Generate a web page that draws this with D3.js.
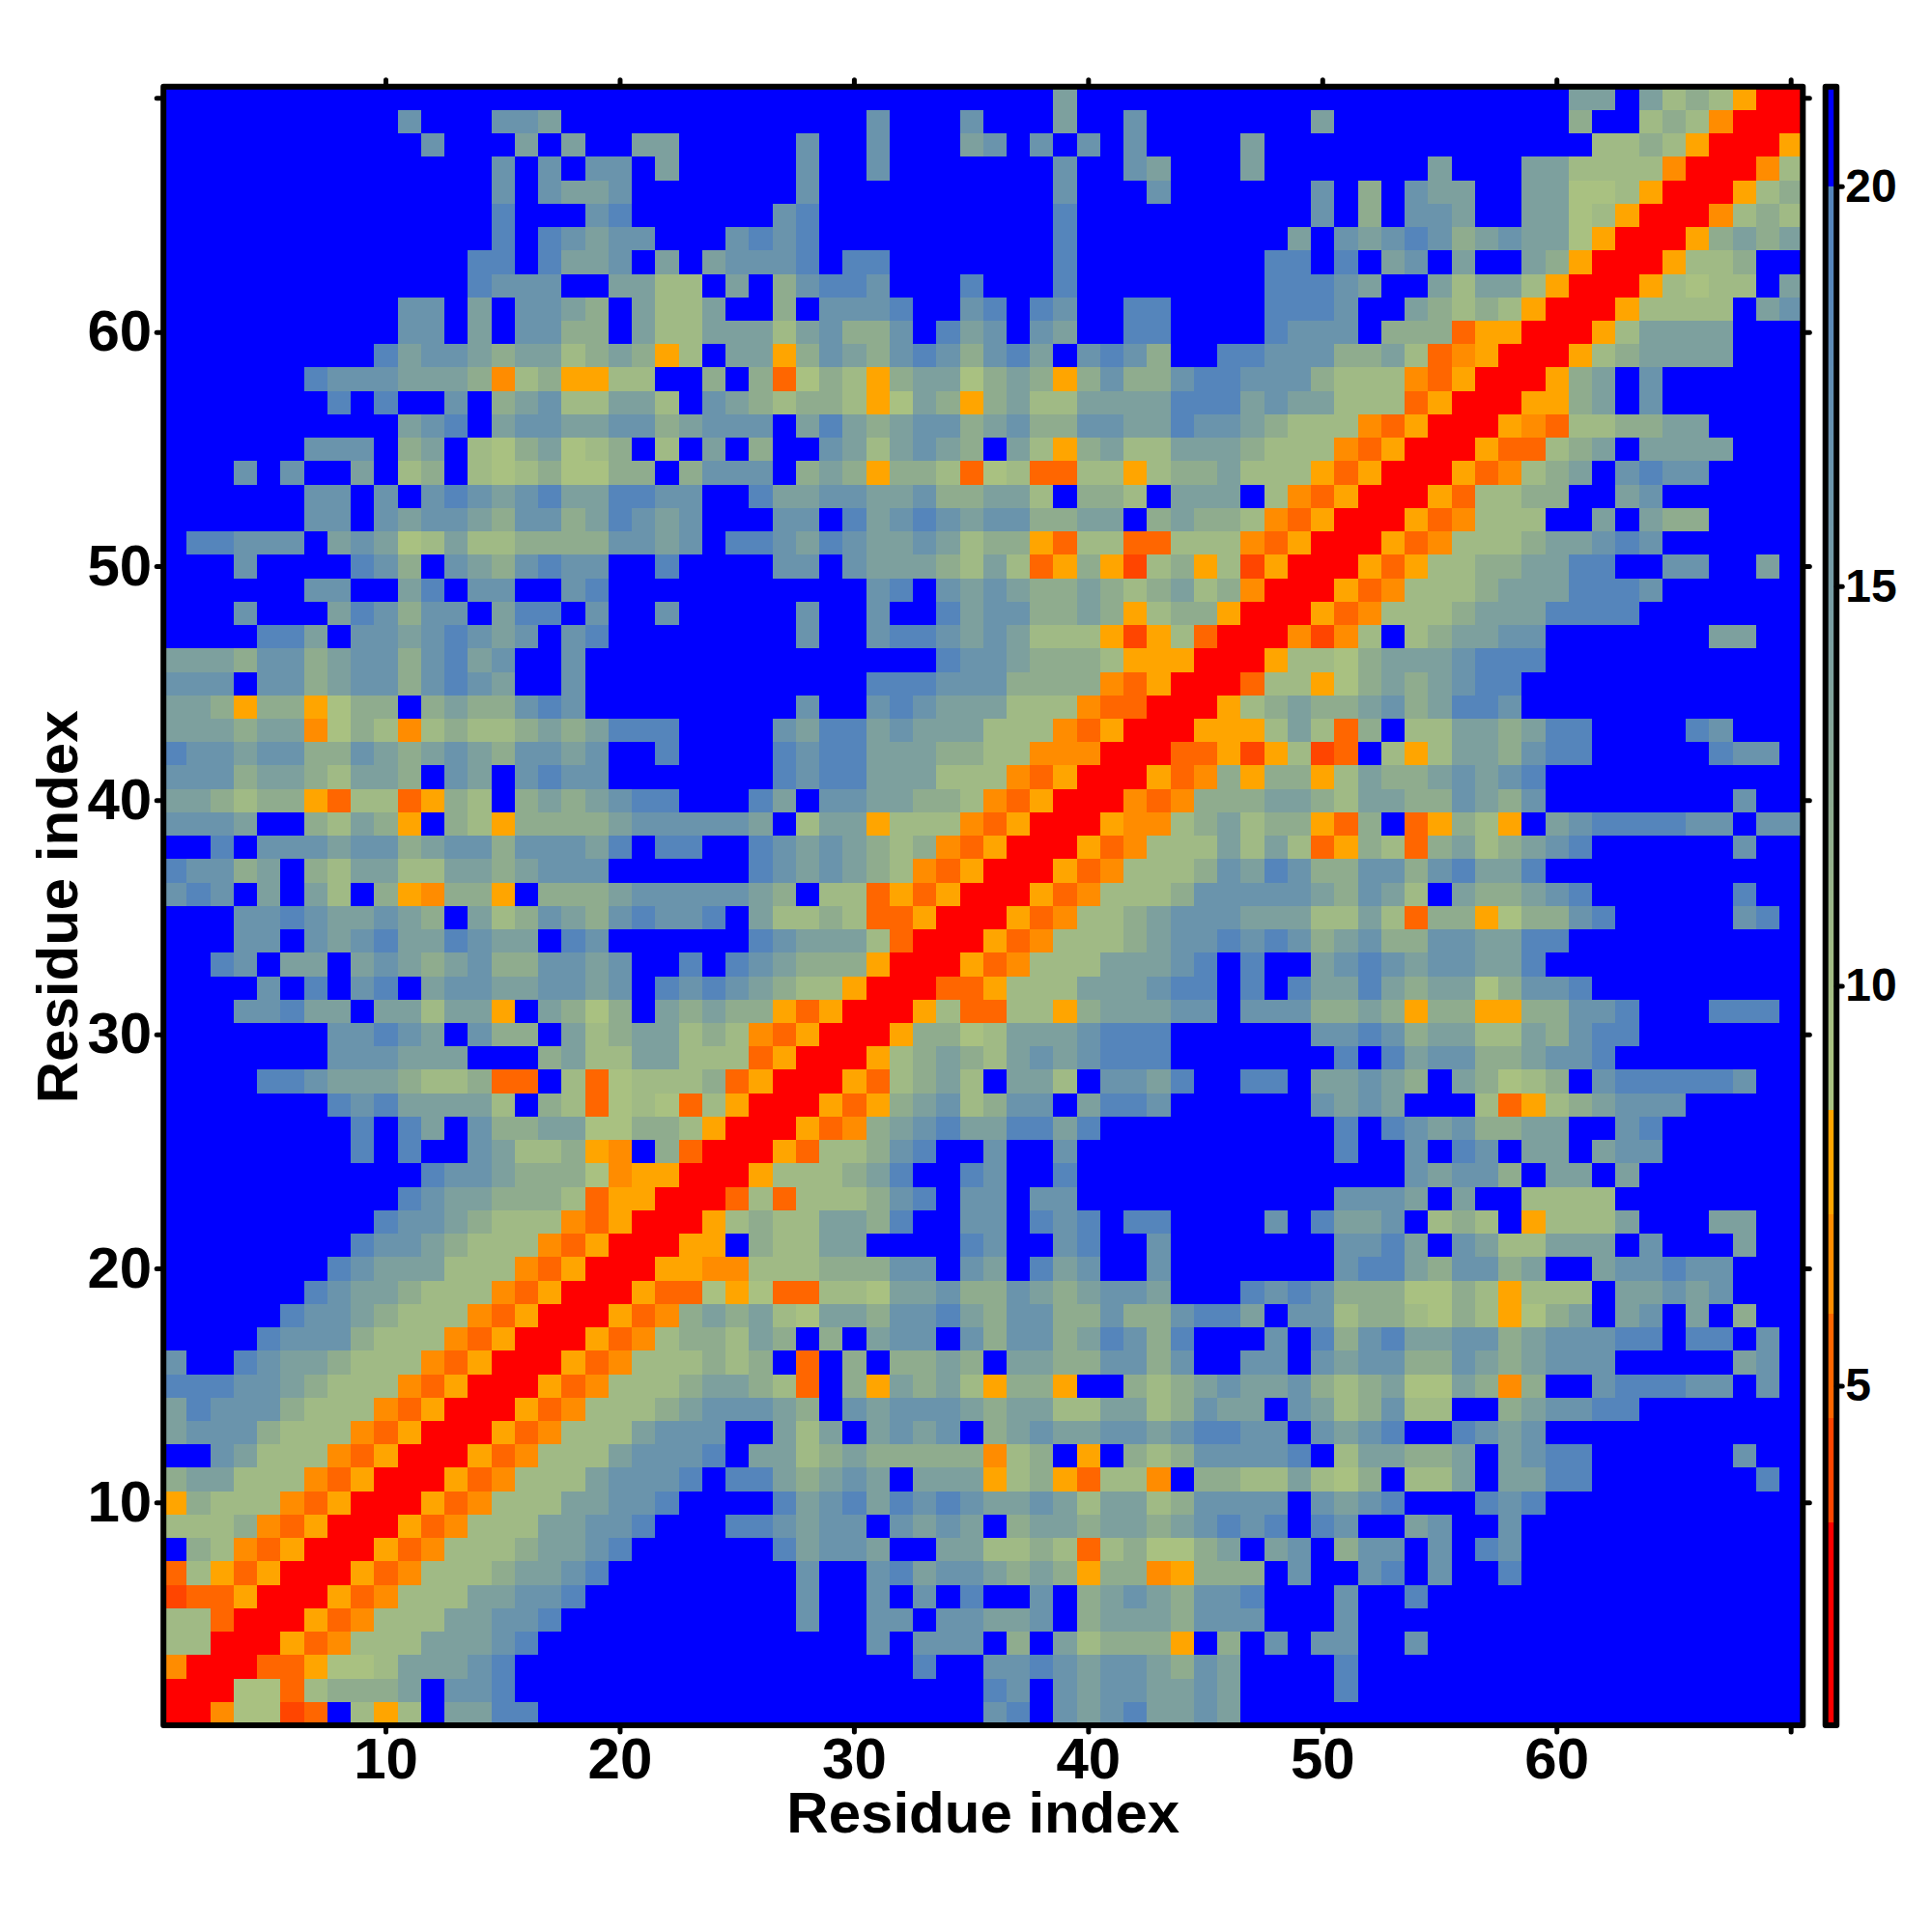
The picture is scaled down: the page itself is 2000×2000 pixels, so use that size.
<!DOCTYPE html>
<html>
<head>
<meta charset="utf-8">
<script src="https://cdn.jsdelivr.net/npm/d3@7"></script>
<style>
html,body{margin:0;padding:0;background:#fff}
svg{display:block}
text{font-family:"Liberation Sans",Arial,sans-serif;font-weight:bold;fill:#000}
</style>
</head>
<body>
<svg id="chart" width="2000" height="2000"></svg>
<script>
// Residues covered by each axis
const residues = d3.range(1, 71);
const axisTicks = [10, 20, 30, 40, 50, 60, 70];
const axisTickLabels = ["10", "20", "30", "40", "50", "60", ""];
const colorbarTicks = [5, 10, 15, 20];
const axisTitle = "Residue index";

// Distance, per colour band of the reference
const bandValues = {r: 2, x: 4, d: 5.2, o: 6.5, y: 7.8, 1: 9.2, 2: 10.5, 3: 12, 4: 14, 5: 16.5, 6: 19, b: 21};

// Warm steps of the palette
const warmLimits = [3.33, 4.62, 5.9, 7.17, 8.46];
const warmColors = ["#ff0000", "#ff4500", "#ff6600", "#ff8c00", "#ffa500"];
// Cool ramp of the palette
const coolStops = [8.46, 9.2, 10.5, 12, 14, 16.5, 19, 20];
const coolColors = ["#a9c181", "#a9c181", "#a0ba85", "#8fac8e", "#7da09e", "#6a94ac", "#5585bb", "#5585bb"];
const farColor = "#0000ff";

// Rows run from residue 70 (top) to residue 1 (bottom); columns 1-24
const columnsLeft = [
"bbbbbbbbbbbbbbbbbbbbbbbb","bbbbbbbbbb5bbb554bbbbbbb","bbbbbbbbbbb5bbb4b4bb44bb","bbbbbbbbbbbbbb5b5b55b4bb","bbbbbbbbbbbbbb5b5445bbbb",
"bbbbbbbbbbbbbb6bbb56bbbb","bbbbbbbbbbbbbb6b65455bbb","bbbbbbbbbbbbb66b6445b4b4","bbbbbbbbbbbbb6555bb4422b","bbbbbbbbbb55b4b5543b4224",
"bbbbbbbbbb55b4b5533b4224","bbbbbbbbb645543442343y2b","bbbbbb65554443o23yy22bb3","bbbbbbb6b6bb5b34522442b5","bbbbbbbbbb456b4554455345",
"bbbbbb555b34b2134123b2b4","bbb5b5bb4b23b21231133b35","bbbbbb55b5b565456446655b","bbbbbb55b54554355346545b","b66555b4541242233335545b",
"bbb5bbbb653b5435655bb6bb","bbbbbb55bb46b55bb56bbbbb","bbb5bbb465355b466b5bb5bb","bbbb664b55456545b56bbbbb","444355345535645bb5bbbbbb",
"555b55345535654bb5bbbbbb","443y33y133b3433565bbbbbb","444344o132o23223434666bb","6554553354345435545bb6bb","55534432443b54b5655bbbbb",
"443233yd22dy32b3434566bb","5554bb3243yb32y333345555","bb6b5554553455355546b66b","65534b3244224434555bbbbb","565b4b42b3yo33yb33345555",
"bbb556544543b42354356556","bbb55b5456446544b65bbbbb","bb65b44b454345335545bb6b","bbbb5b6b56b455445545b656","bbb55644b44244yb4313b434",
"bbbbbbb55654b533b4234423","bbbbbbb555444bbb34224422","bbbb6654443223ddb2d12223","bbbbbbb65644442b32d121d2","bbbbbbbb6b64b5334411332y",
"bbbbbbbb6b6bb54223yob3dr","bbbbbbbbbbb65543331oyyrr","bbbbbbbbbb65443332dyyrrr","bbbbbbbbb65543222odyrrry","bbbbbbbb65543222odyrrryy",
"bbbbbbb65444222odyrrryyo","bbbbbb65443222odyrrrydd1","bbbbb65543222odyrrrydo34","bbbb65553222odyrrrydo233","5bb65443222odyrrrydo2223",
"6665543222odyrrrydo22234","465553222odyrrrydo222345","45553222odyrrrydo2224555","bb54222odyrrrydo22245556","344222odyrrrydo22245556b",
"y3222odyrrrydo22244556bb","2223odyrrrydo22244556bbb","b32odyrrrydo22234456bbbb","d2ydyrrrydo22234456bbbbb","xddyrrrydo22244556bbbbbb",
"22drrrydo22244556bbbbbbb","22rrrydo22244456bbbbbbbb","orrrddy11244456bbbbbbbbb","rrr11d23334b556bbbbbbbbb","rro11xdb2y2b4466bbbbbbbb"
];
// Columns 25-46
const columnsMiddle = [
"bbbbbbbbbbbbbb4bbbbbbb","bbbbbb5bbb5bbb4bb5bbbb","bbb5bb5bbb45b5b5b5bbbb","bbb5bb5bbbbbbb5bb54bbb","bbb5bbbbbbbbbb5bbb5bbb",
"bb56bbbbbbbbbb6bbbbbbb","5656bbbbbbbbbb6bbbbbbb","5556b66bbbbbbb6bbbbbbb","4b35665bbb6bbb6bbbbbbb","bb3b5556bb56b65bb66bbb",
"44245335b645b54bb66bbb","44y35435653564b5653bb6","b3d132y3441343y3533566","432332y143y34224444666","55b4643455345335544655",
"b3bb5424543b42y3422444","55b343y332d12dd22y2334","b6445544533442b332b444","bb55b645654553344b3433","6654654454233yd22dd222",
"bb55b54443242dy3yx23y2","bbbbbb56b5454334323423","bbb5bb5bb64553343y233y","bbb5bb5665454222yxy2dr","bbbbbbbbb65543332yyyrr",
"bbbbbb6665553333odyrrr","bbb5bb565444222oddrrry","bb546645444222odyrrryy","bb65664443322ooorrrddy","bb6566444222odyrrrydo3",
"b64b5544332odyrrrodo33","54b244y222odyrrryoo234","b65454323odyrrrydo2224","b6545432odyrrrydo22235","543b22dydyrrrydo222355",
"b42232ddyrrrydo2234555","b654442drrrydo22234556","654333yrrrydo22244456b","54322yrrrddy222444566b","33ydyrrry2dd22y344455b",
"2odyrrry33124445666bbb","2dyrrry234324545666bbb","dyrrryd2342b442b5546bb","yrrrydy3452355b4665bbb","rrrydo3456446646bbbbbb",
"rryd22356bb5bb5bbbbbbb","ry222346bb65bb6bbbbbbb","d2d222356b55b55bbbbbbb","23224436bb55b656b66bbb","b32244bbbb65bb56bb5bbb",
"o22233355b54b645bb5bbb","y1dd221445335434554bbb","3421443556435533533566","243b3b455b5355346536bb","23bdb3b3343b44335535bb",
"432db3y4342y33ybb32345","5543b54555434422442354","bb424b4545b34544554566","b4423433333o23byb32355","6643454b444y23yd22ob33",
"bb64564656544542442355","665455b5454b3443443456","bb64554bb442232d231134","bbb5bb564554343y33oy33","bbb5bb5b5b6bb5b3454355",
"bbb5bb55b55445b3444355","bbbbbb5b555b3b42333yb3","bbbbbbbb6bb55654554354","bbbbbbbbbbb65b54554454","bbbbbbbbbbb56b54564454"
];
// Columns 47-70
const columnsRight = [
"bbbbbbbbbbbbbb44b4232yrr","bbb4bbbbbbbbbb3bb232orrr","4bbbbbbbbbbbbbb2232yrrry","4bbbbbbb4bbb442222orrro2","bbb5b3b544bb44112yrrry23",
"bbb5b3b554bb4412yrrro232","bb4b54565345441yrrry3434","b66b6b45b4bb43yrrry223bb","b66654bb42442yrrry2122b4","b6665bb43232yrrry2222b45",
"b6555b333dyyrrry24444bbb","65553342doyrrry234444bbb","5553222odyrrry34b5bbbbbb","4544222dyrrryy34b5bbbbbb","43222odyrrryod223344bbbb",
"3222odyrrrydd234b4444bbb","222ydyrrrydo234b5655bbbb","b2odyrrryd2233bb45bbbbbb","2odyrrrydo222bb4b433bbbb","odyrrrydo222344565bbbbbb",
"xyrrrydy22334466bb55bb4b","orrrydo22234446665bbbbbb","rrrydo22234446666bbbbbbb","rroxo2b234455bbbbbbb44bb","ry22134445666bbbbbbbbbbb",
"d22y13434566bbbbbbbbbbbb","234334534665bbbbbbbbbbbb","y242d3b22443466bbbb65bbb","xy2xdb2y2443566bbbbb655b","y33y243345456bbbbbbbbbbb",
"3443244335435bbbbbbbb5bb","233yd3bdy32yb45666655b55","242dy32d3423456bbbbbb5bb","4653355356446bbbbbbbbbbb","55543542b433456bbbbbb6bb",
"4442242d33y13356bbbbb56b","56534533554466bbbbbbbbbb","6bb4565455446bbbbbbbbbbb","6b6446434413556bbbbbbbbb","5553343y33yy33556bbb666b",
"bbb55653442243566bbbbbbb","bbbb6b6455334556bbbbbbbb","66b44543b43123b5666665bb","bbb5454bbb2dy234555bbbbb","bbbb6b65453344bb56bbbbbb",
"bbbb6bb5b65b44b455bbbbbb","bbbbbbb54553b44b4bbbbbbb","bbbb5554b4bb2222bbbbbbbb","b5b6445b232by2224bbb44bb","bbbb5564b5422444b5bbb4bb",
"bbbb566435534bb455655bbb","65653331132y222b44545bbb","4b552332132y134b45b4b3bb","b5b635644553455566b66b5b","55b5455335434555bbbbb45b",
"44532341143o3bb566655b5b","4b5423522bb345566bbbbbbb","55b5456bb6545bbbbbbbbbbb","556b244334b4566bbbbbb5bb","224213b224b4466bbbbbbb6b",
"55b5456bbb656bbbbbbbbbbb","56b65bb45bb5bbbbbbbbbbbb","b45b355b5b65bbbbbbbbbbbb","3b5bb56b5bb6bbbbbbbbbbbb","6bbb5bb6bbbbbbbbbbbbbbbb",
"5bbb5bbbbbbbbbbbbbbbbbbb","b5b55bb5bbbbbbbbbbbbbbbb","bbbb6bbbbbbbbbbbbbbbbbbb","bbbb6bbbbbbbbbbbbbbbbbbb","bbbbbbbbbbbbbbbbbbbbbbbb"
];

const warmScale = d3.scaleThreshold().domain(warmLimits).range(warmColors);
const coolScale = d3.scaleLinear().domain(coolStops).range(coolColors).clamp(true);
const colorOf = v => v >= 20 ? farColor : (v < warmLimits[warmLimits.length - 1] ? warmScale(v) : coolScale(v));

const cells = [];
columnsLeft.forEach((leftPart, rowIdx) => {
  const row = leftPart + columnsMiddle[rowIdx] + columnsRight[rowIdx];
  if (row.length !== 70) throw new Error("row " + (70 - rowIdx) + " has " + row.length);
  residues.forEach((r, i) => cells.push({x: r, y: 70 - rowIdx, v: bandValues[row[i]]}));
});

const svg = d3.select("#chart");
const plotLeft = 169.2, plotRight = 1866.3, plotTop = 89.7, plotBottom = 1786;
const x = d3.scaleLinear().domain([0.5, 70.5]).range([plotLeft, plotRight]);
const y = d3.scaleLinear().domain([0.5, 70.5]).range([plotBottom, plotTop]);

svg.append("rect").attr("width", 2000).attr("height", 2000).attr("fill", "#fff");

svg.append("g").attr("shape-rendering", "crispEdges").selectAll("rect").data(cells).join("rect")
  .attr("x", d => x(d.x - 0.5))
  .attr("y", d => y(d.y + 0.5))
  .attr("width", d => x(d.x + 0.5) - x(d.x - 0.5) + 0.4)
  .attr("height", d => y(d.y - 0.5) - y(d.y + 0.5) + 0.4)
  .attr("fill", d => colorOf(d.v));

function styleAxis(g, fontSize) {
  g.select(".domain").remove();
  g.selectAll(".tick line").attr("stroke", "#000").attr("stroke-width", 5).attr("stroke-linecap", "round");
  g.selectAll(".tick text").attr("font-size", fontSize).attr("fill", "#000");
}
const fmt = d => axisTickLabels[axisTicks.indexOf(d)];
const makeAxis = (gen, scale) => gen(scale).tickValues(axisTicks).tickFormat(fmt).tickSize(7).tickPadding(5).offset(0);

svg.append("g").attr("transform", `translate(0,${plotBottom})`).call(makeAxis(d3.axisBottom, x)).call(g => styleAxis(g, 60));
svg.append("g").attr("transform", `translate(${plotLeft},0)`).call(makeAxis(d3.axisLeft, y)).call(g => styleAxis(g, 60));
svg.append("g").attr("transform", `translate(0,${plotTop})`).call(makeAxis(d3.axisTop, x).tickFormat("")).call(g => styleAxis(g, 60));
svg.append("g").attr("transform", `translate(${plotRight},0)`).call(makeAxis(d3.axisRight, y).tickFormat("")).call(g => styleAxis(g, 60));

svg.append("rect").attr("x", plotLeft).attr("y", plotTop).attr("width", plotRight - plotLeft).attr("height", plotBottom - plotTop)
  .attr("fill", "none").attr("stroke", "#000").attr("stroke-width", 6).attr("stroke-linejoin", "round");

svg.append("text").attr("x", (plotLeft + plotRight) / 2).attr("y", 1897).attr("text-anchor", "middle").attr("font-size", 60).text(axisTitle);
svg.append("text").attr("transform", `translate(80,${(plotTop + plotBottom) / 2 + 1}) rotate(-90)`).attr("text-anchor", "middle").attr("font-size", 60).text(axisTitle);

// Colour bar
const barLeft = 1889.7, barRight = 1901.2;
const c = d3.scaleLinear().domain([5, 20]).range([1435, 193.3]);
const barSteps = d3.range(c.invert(plotBottom), c.invert(plotTop), 0.05);
svg.append("g").attr("shape-rendering", "crispEdges").selectAll("rect").data(barSteps).join("rect")
  .attr("x", barLeft).attr("width", barRight - barLeft)
  .attr("y", d => c(d + 0.05))
  .attr("height", d => c(d) - c(d + 0.05) + 0.6)
  .attr("fill", d => colorOf(d + 0.025));
svg.append("rect").attr("x", barLeft).attr("y", plotTop).attr("width", barRight - barLeft).attr("height", plotBottom - plotTop)
  .attr("fill", "none").attr("stroke", "#000").attr("stroke-width", 6).attr("stroke-linejoin", "round");
svg.append("g").attr("transform", `translate(${barRight},0)`)
  .call(d3.axisRight(c).tickValues(colorbarTicks).tickFormat(d3.format("d")).tickSize(6).tickPadding(3).offset(0))
  .call(g => styleAxis(g, 48));
</script>
</body>
</html>
